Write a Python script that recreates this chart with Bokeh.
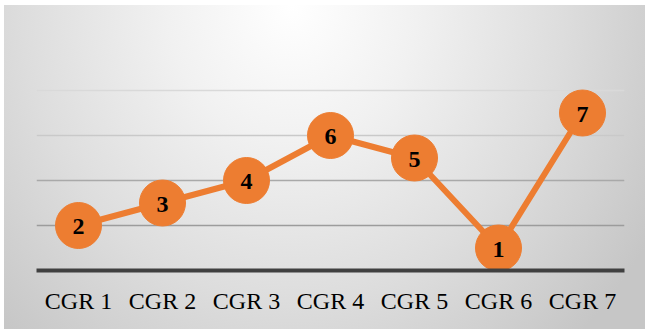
from bokeh.plotting import figure
from bokeh.models import Range1d, FactorRange, Grid, FixedTicker, ColumnDataSource
from bokeh.core.properties import value
from bokeh.embed import file_html
from bokeh.resources import INLINE

# Categories and their scores
categories = ["CGR 1", "CGR 2", "CGR 3", "CGR 4", "CGR 5", "CGR 6", "CGR 7"]
scores = [2, 3, 4, 6, 5, 1, 7]
score_labels = [str(s) for s in scores]

# Horizontal guide levels, lightest at the top
grid_levels = [2, 4, 6, 8]
grid_colors = ["#9c9c9c", "#a9a9a9", "#c9c9c9", "#d9d9d9"]

ORANGE = "#ED7D31"

source = ColumnDataSource(dict(cat=categories, score=scores, label=score_labels))

p = figure(
    width=648, height=329,
    x_range=FactorRange(*categories, range_padding=0),
    y_range=Range1d(0, 10),
    output_backend="svg", toolbar_location=None,
    min_border_left=36, min_border_right=24,
    min_border_top=45, min_border_bottom=59,
)

# Soft grey radial backdrop behind the whole chart
p.background_fill_color = None
p.border_fill_color = None
p.outline_line_color = None
p.styles = {
    "background-color": "white",
    "background-image": "radial-gradient(ellipse 65% 140% at 45% 0%, #ffffff 0%, #f1f1f1 30%, #dddddd 65%, #c6c6c6 100%)",
    "background-repeat": "no-repeat",
    "background-position": "4px 5px",
    "background-size": "641px 324px",
}

p.xgrid.visible = False
p.ygrid.visible = False
p.yaxis.visible = False

for level, color in zip(grid_levels, grid_colors):
    g = Grid(dimension=1, ticker=FixedTicker(ticks=[level]),
             grid_line_color=color, grid_line_width=1.5)
    p.add_layout(g)

xa = p.xaxis[0]
xa.axis_line_color = "#404040"
xa.axis_line_width = 4
xa.major_tick_line_color = None
xa.minor_tick_line_color = None
xa.major_label_text_font = "Liberation Serif"
xa.major_label_text_font_size = "24px"
xa.major_label_text_color = "#000000"
xa.major_label_standoff = 11

p.line(x="cat", y="score", source=source, line_color=ORANGE, line_width=6)
p.scatter(x="cat", y="score", source=source, size=46,
          fill_color=ORANGE, line_color=ORANGE)
p.text(x="cat", y="score", text="label", source=source,
       text_font=value("Liberation Serif"), text_font_style="bold",
       text_font_size="24px", text_color="#000000",
       text_align="center", text_baseline="middle", y_offset=1)

html = file_html(p, INLINE)
open("out.html", "w").write(html)
